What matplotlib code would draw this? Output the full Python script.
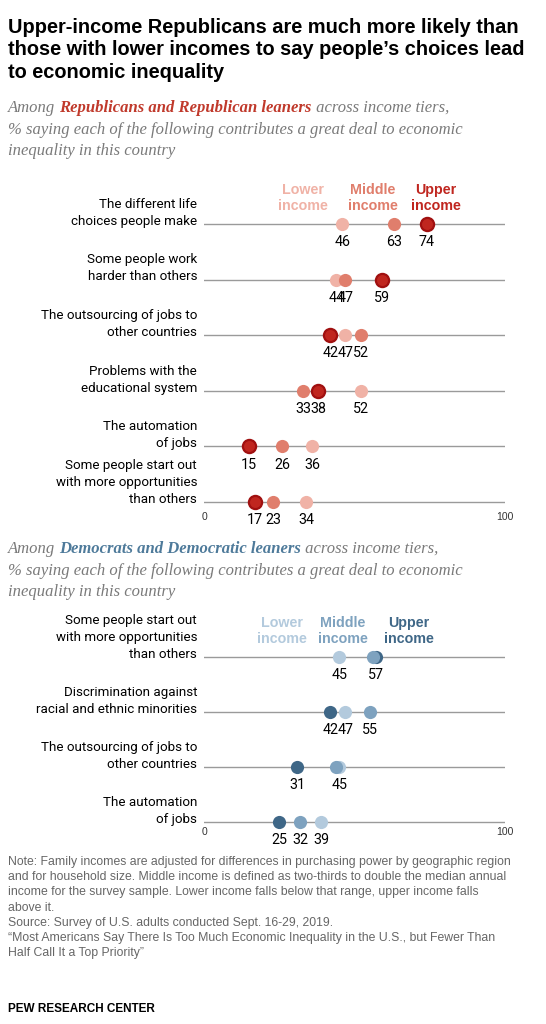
import matplotlib.pyplot as plt

plt.rcParams['font.family'] = ['Liberation Sans', 'DejaVu Sans']

W, H = 546, 1024

rep_labels = ['The different life\nchoices people make',
              'Some people work\nharder than others',
              'The outsourcing of jobs to\nother countries',
              'Problems with the\neducational system',
              'The automation\nof jobs',
              'Some people start out\nwith more opportunities\nthan others']
rep_lower = [46, 44, 47, 52, 36, 34]
rep_middle = [63, 47, 52, 33, 26, 23]
rep_upper = [74, 59, 42, 38, 15, 17]

dem_labels = ['Some people start out\nwith more opportunities\nthan others',
              'Discrimination against\nracial and ethnic minorities',
              'The outsourcing of jobs to\nother countries',
              'The automation\nof jobs']
dem_lower = [45, 47, 45, 39]
dem_middle = [56, 55, 44, 32]
dem_upper = [57, 42, 31, 25]
# which values get a number under the dot
dem_show = [['lower', 'upper'], ['lower', 'middle', 'upper'], ['lower', 'upper'],
            ['lower', 'middle', 'upper']]

REP_C = {'lower': '#F0B2A6', 'middle': '#E07E6C', 'upper': '#C0261F'}
DEM_C = {'lower': '#B3CADD', 'middle': '#7EA2BF', 'upper': '#3F6787'}

fig = plt.figure(figsize=(W / 100, H / 100), dpi=100)
renderer = fig.canvas.get_renderer()


def fx(x):
    return x / W


def fy(y):
    return 1 - y / H


def panel(top, bottom, n):
    sp = (bottom - top) / (n - 1)
    ax = fig.add_axes([fx(204), fy(bottom + sp / 2), fx(505) - fx(204), (bottom - top + sp) / H])
    ax.set_xlim(0, 100)
    ax.set_ylim(n - 0.5, -0.5)
    ax.axis('off')
    return ax


def draw(ax, labels, lower, middle, upper, colors, show, order, tick_y):
    n = len(labels)
    for i in range(n):
        ax.plot([-0.7, 100], [i, i], color='#9a9a9a', lw=1, zorder=1)
        vals = {'lower': lower[i], 'middle': middle[i], 'upper': upper[i]}
        for k in order:
            ec = '#A01010' if (k == 'upper' and colors is REP_C) else colors[k]
            ax.scatter(vals[k], i, s=90, color=colors[k], edgecolor=ec,
                       linewidth=1.6 if ec != colors[k] else 0, zorder=3)
        for k in show[i]:
            ax.text(vals[k], i + 0.2, str(vals[k]), ha='center', va='top', fontsize=10.3,
                    family=['Roboto', 'DejaVu Sans'])
        ax.text(-2.3, i + 0.07, labels[i], ha='right', va='bottom', fontsize=9.6,
                linespacing=1.4, family=['Roboto', 'DejaVu Sans'])
    ax.text(0, tick_y, '0', ha='center', va='center', fontsize=7.5, color='#333333')
    ax.text(100, tick_y, '100', ha='center', va='center', fontsize=7.5, color='#333333')


def subtitle(y, bold, bold_c):
    sub_c = '#7a7a7a'
    kw = dict(fontsize=12, style='italic', family='Liberation Serif', va='top')
    x = fx(8)
    for part, c, w in [('Among ', sub_c, 'normal'), (bold, bold_c, 'bold'),
                       (' across income tiers,', sub_c, 'normal')]:
        t = fig.text(x, fy(y), part, color=c, fontweight=w, **kw)
        x += t.get_window_extent(renderer).width / W
    fig.text(fx(8), fy(y + 22), '% saying each of the following contributes a great deal to economic\n'
             'inequality in this country', color=sub_c, linespacing=1.45, **kw)


# title
fig.text(fx(8), fy(18), 'Upper-income Republicans are much more likely than\n'
         'those with lower incomes to say people\u2019s choices lead\nto economic inequality',
         fontsize=14.4, fontweight='bold', va='top', ha='left', linespacing=1.22)

subtitle(100, 'Republicans and Republican leaners', '#C0392B')

ax1 = panel(224, 502, 6)
draw(ax1, rep_labels, rep_lower, rep_middle, rep_upper, REP_C,
     [['lower', 'middle', 'upper']] * 6, ['lower', 'middle', 'upper'], 5.27)
for t, x, c in [('Lower\nincome', 33, REP_C['lower']),
                ('Middle\nincome', 56, REP_C['middle']),
                ('Upper\nincome', 77, REP_C['upper'])]:
    ax1.text(x, -0.2, t, ha='center', va='bottom', fontsize=10.3, fontweight='bold',
             color=c, linespacing=1.15)

subtitle(541, 'Democrats and Democratic leaners', '#4E7A9A')

ax2 = panel(657, 822, 4)
draw(ax2, dem_labels, dem_lower, dem_middle, dem_upper, DEM_C, dem_show,
     ['lower', 'upper', 'middle'], 3.18)
for t, x, c in [('Lower\nincome', 26, DEM_C['lower']),
                ('Middle\nincome', 46, DEM_C['middle']),
                ('Upper\nincome', 68, DEM_C['upper'])]:
    ax2.text(x, -0.2, t, ha='center', va='bottom', fontsize=10.3, fontweight='bold',
             color=c, linespacing=1.15)

fig.text(fx(8), fy(856), 'Note: Family incomes are adjusted for differences in purchasing power by geographic region\n'
         'and for household size. Middle income is defined as two-thirds to double the median annual\n'
         'income for the survey sample. Lower income falls below that range, upper income falls\n'
         'above it.\n'
         'Source: Survey of U.S. adults conducted Sept. 16-29, 2019.\n'
         '\u201cMost Americans Say There Is Too Much Economic Inequality in the U.S., but Fewer Than\n'
         'Half Call It a Top Priority\u201d',
         fontsize=8.8, color='#666666', va='top', linespacing=1.36)
fig.text(fx(8), fy(1003), 'PEW RESEARCH CENTER', fontsize=8.5, fontweight='bold', va='top')

fig.savefig('out.png', dpi=100)
